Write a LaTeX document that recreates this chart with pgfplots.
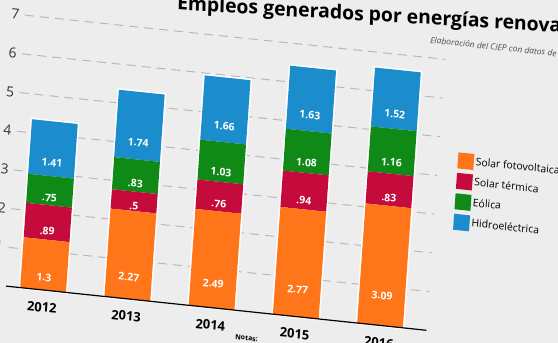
\documentclass[border=0pt]{standalone}
\usepackage{pgfplots}
\pgfplotsset{compat=1.18}
\usepackage{pgfplotstable}
\usepackage{fontspec}
\setmainfont{Open Sans}
\definecolor{bg}{HTML}{EDEDED}
\definecolor{cfv}{HTML}{FF7519}
\definecolor{cst}{HTML}{C50A3C}
\definecolor{ceo}{HTML}{0F8A16}
\definecolor{chi}{HTML}{1C8DCC}

\pgfplotstableread{
x y lab
0 1.3 1.3
1 2.27 2.27
2 2.49 2.49
3 2.77 2.77
4 3.09 3.09
}\fv
\pgfplotstableread{
x y lab
0 0.89 .89
1 0.5 .5
2 0.76 .76
3 0.94 .94
4 0.83 .83
}\st
\pgfplotstableread{
x y lab
0 0.75 .75
1 0.83 .83
2 1.03 1.03
3 1.08 1.08
4 1.16 1.16
}\eo
\pgfplotstableread{
x y lab
0 1.41 1.41
1 1.74 1.74
2 1.66 1.66
3 1.63 1.63
4 1.52 1.52
}\hi

\pgfplotsset{
  geom/.style={
    at={(5.8bp,53bp)}, anchor=south west,
    x=84.7bp, y=38.8bp,
    xmin=-0.44, xmax=4.55, ymin=0, ymax=7.2,
    ybar stacked, bar width=46bp,
    major tick length=0pt,
    clip=false,
  }
}

\begin{document}
\begin{tikzpicture}
\useasboundingbox (0,0) rectangle (558bp,343bp);
\fill[bg] (0,0) rectangle (558bp,343bp);
\clip (0,0) rectangle (558bp,343bp);
\begin{scope}[transform canvas={cm={0.9945,-0.1045,0.0698,0.9976,(-3.46bp,4.62bp)}}]
% layer 1: grid, tick labels, white bar outlines
\begin{axis}[geom,
  axis x line*=bottom, axis y line*=left,
  axis line style={draw=none},
  ytick={1,2,3,4,5,6,7},
  yticklabel style={font=\fontsize{14}{16}\selectfont, text=black!80, xshift=-2bp},
  /pgf/number format/assume math mode=true,
  xtick=data, xticklabels={2012,2013,2014,2015,2016},
  xticklabel style={font=\fontsize{13}{15}\selectfont\bfseries, yshift=-9bp},
  ymajorgrids, grid style={dash pattern=on 9bp off 6bp, black!28, line width=1bp},
]
\addplot[fill=white, draw=white, line width=3bp] table[x=x, y=y] {\fv};
\addplot[fill=white, draw=white, line width=3bp] table[x=x, y=y] {\st};
\addplot[fill=white, draw=white, line width=3bp] table[x=x, y=y] {\eo};
\addplot[fill=white, draw=white, line width=3bp] table[x=x, y=y] {\hi};
\end{axis}
% layer 2: coloured bars, labels, baseline, legend
\begin{axis}[geom,
  axis on top,
  axis x line*=bottom, hide y axis,
  x axis line style={black, line width=1.2bp},
  xtick=\empty,
  point meta=explicit symbolic,
  visualization depends on={rawy \as \rawy},
  nodes near coords,
  nodes near coords style={anchor=center, yshift=-\rawy*9.7bp, text=white, font=\fontsize{10.5}{12}\selectfont\bfseries},
  legend style={at={(1.046,0.507)}, anchor=west, draw=none, fill=none,
    font=\fontsize{10.5}{12}\selectfont, row sep=4.5bp, inner sep=0pt},
  legend cell align=left,
  legend image code/.code={\fill[#1] (0bp,-8bp) rectangle (16bp,8bp);},
]
\addplot[fill=cfv, draw=none] table[x=x, y=y, meta=lab] {\fv};
\addplot[fill=cst, draw=none] table[x=x, y=y, meta=lab] {\st};
\addplot[fill=ceo, draw=none] table[x=x, y=y, meta=lab] {\eo};
\addplot[fill=chi, draw=none] table[x=x, y=y, meta=lab] {\hi};
\legend{Solar fotovoltaica, Solar térmica, Eólica, Hidroeléctrica}
\end{axis}
\node[anchor=base west, inner sep=0pt, rotate=2.6, font=\fontsize{19.5}{23}\selectfont\bfseries] at (157bp,346bp) {Empleos generados por energías renovables};
\node[anchor=base west, inner sep=0pt, font=\fontsize{8.5}{10}\selectfont\itshape, text=black!70] at (412bp,339bp) {Elaboración del CIEP con datos de};
\node[anchor=base west, inner sep=0pt, font=\fontsize{7}{8}\selectfont\bfseries] at (238bp,24bp) {Notas:};
\end{scope}
\end{tikzpicture}
\end{document}
